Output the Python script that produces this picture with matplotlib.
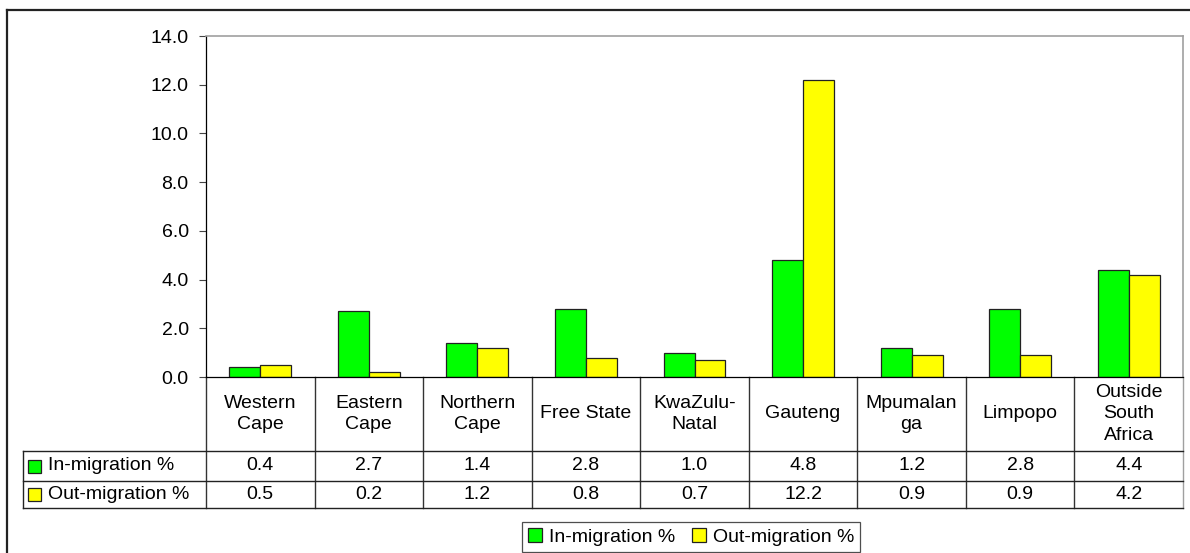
import matplotlib.pyplot as plt
from matplotlib.patches import Rectangle
from matplotlib.lines import Line2D
from matplotlib.transforms import blended_transform_factory

plt.rcParams['font.family'] = ['Liberation Sans', 'DejaVu Sans']

# migration by province, percent
regions = ['Western\nCape', 'Eastern\nCape', 'Northern\nCape', 'Free State',
           'KwaZulu-\nNatal', 'Gauteng', 'Mpumalan\nga', 'Limpopo',
           'Outside\nSouth\nAfrica']
in_migration = [0.4, 2.7, 1.4, 2.8, 1.0, 4.8, 1.2, 2.8, 4.4]
out_migration = [0.5, 0.2, 1.2, 0.8, 0.7, 12.2, 0.9, 0.9, 4.2]
series_names = ['In-migration %', 'Out-migration %']
colors = ['#00ff00', '#ffff00']

FS = 14
W, H = 1190, 553
fig = plt.figure(figsize=(W / 100, H / 100), dpi=100)


def fx(px):
    return px / W


def fy(py):
    return 1 - py / H


ax = fig.add_axes([fx(206), fy(377), fx(1183) - fx(206), fy(36) - fy(377)])

n = len(regions)
x = list(range(n))
bw = 0.285
ax.bar([i - bw / 2 for i in x], in_migration, bw, color=colors[0],
       edgecolor='#222222', linewidth=0.9)
ax.bar([i + bw / 2 for i in x], out_migration, bw, color=colors[1],
       edgecolor='#222222', linewidth=0.9)

ax.set_xlim(-0.5, n - 0.5)
ax.set_ylim(0, 14)
ax.set_yticks([0, 2, 4, 6, 8, 10, 12, 14])
ax.set_yticklabels([f'{v:.1f}' for v in ax.get_yticks()], fontsize=FS)
ax.set_xticks([])
ax.tick_params(axis='y', length=5, width=0.8, color='#444444', pad=7.5)
for s in ['top', 'right']:
    ax.spines[s].set_color('#a0a0a0')
    ax.spines[s].set_linewidth(1.2)
ax.spines['left'].set_color('black')
ax.spines['bottom'].set_color('black')
ax.spines['left'].set_linewidth(0.9)
ax.spines['bottom'].set_linewidth(0.9)

# data table under the axis
tr = blended_transform_factory(ax.transData, ax.transAxes)
span = 377 - 36


def ay(py):
    return (377 - py) / span


row_lines = [451, 481, 508]
label_left = (23 - 206) / 977

for i in range(n + 1):
    c = '#a0a0a0' if i == n else '#333333'
    ax.add_line(Line2D([i - 0.5, i - 0.5], [0, ay(508)], transform=tr,
                       color=c, lw=1.0, clip_on=False))
for py in row_lines:
    ax.add_line(Line2D([label_left, 1], [ay(py), ay(py)], transform=ax.transAxes,
                       color='#222222', lw=1.0, clip_on=False))
ax.add_line(Line2D([label_left, label_left], [ay(451), ay(508)],
                   transform=ax.transAxes, color='#222222', lw=1.0, clip_on=False))

for i, name in enumerate(regions):
    ax.text(i, ay(414), name, transform=tr, ha='center', va='center',
            fontsize=FS, linespacing=1.32, clip_on=False)

row_centres = [466, 494.5]
for r, vals in enumerate([in_migration, out_migration]):
    for i, v in enumerate(vals):
        ax.text(i, ay(row_centres[r]), f'{v:.1f}', transform=tr,
                ha='center', va='center', fontsize=FS, clip_on=False)
    fig.patches.append(Rectangle((fx(28), fy(row_centres[r] + 6.5)), fx(13), fy(0) - fy(13),
                                 transform=fig.transFigure, facecolor=colors[r],
                                 edgecolor='#222222', lw=0.9))
    fig.text(fx(48), fy(row_centres[r]), series_names[r], ha='left', va='center',
             fontsize=FS)

handles = [Rectangle((0, 0), 1, 1, facecolor=c, edgecolor='#222222', lw=0.9)
           for c in colors]
leg = fig.legend(handles, series_names, loc='center', ncol=2,
                 bbox_to_anchor=(fx(691), fy(537)), fontsize=FS,
                 frameon=True, fancybox=False, edgecolor='#222222',
                 handlelength=0.72, handleheight=0.72, handletextpad=0.36,
                 columnspacing=0.85, borderpad=0.3, borderaxespad=0)
leg.get_frame().set_linewidth(0.9)

# outer chart frame
fig.add_artist(Line2D([fx(7), 1], [fy(10), fy(10)], transform=fig.transFigure,
                      color='#222222', lw=1.6))
fig.add_artist(Line2D([fx(7), fx(7)], [fy(10), 0], transform=fig.transFigure,
                      color='#222222', lw=1.6))

fig.savefig('out.png', dpi=100)
